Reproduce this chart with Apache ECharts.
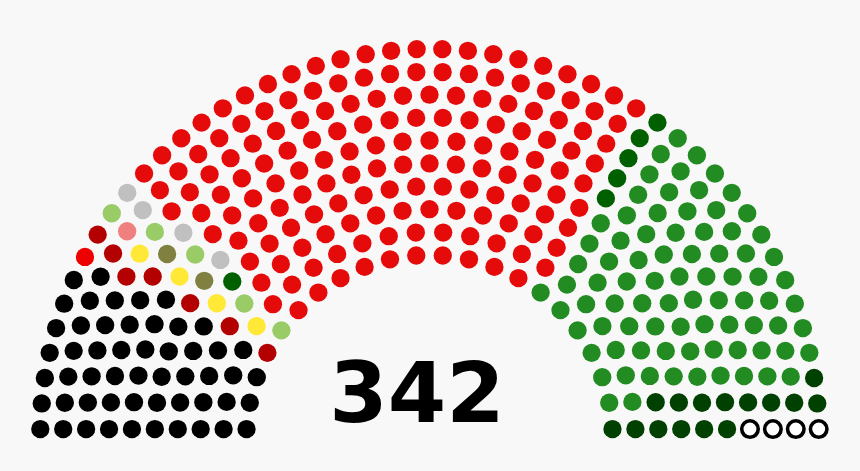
<!DOCTYPE html>
<html>
<head>
<meta charset="utf-8">
<script src="https://cdn.jsdelivr.net/npm/echarts@6/dist/echarts.min.js"></script>
<style>
html,body{margin:0;padding:0;background:#f8f8f8;}
#chart{width:860px;height:471px;}
</style>
</head>
<body>
<div id="chart"></div>
<script>
// Parties in seating order (left to right)
const partyNames = ['Black', 'Bright red', 'Dark red', 'Yellow', 'Pink', 'Olive', 'Light green', 'Dark green A', 'Grey', 'Red', 'Dark green B', 'Green', 'Darker green', 'Vacant'];
const seatCounts = [53, 1, 7, 4, 1, 2, 5, 1, 4, 158, 5, 82, 15, 4];
const seatColors = ['#000000', '#ee0000', '#b30000', '#ffe836', '#f08080', '#808040', '#99cc66', '#006000', '#c0c0c0', '#e60b0b', '#006000', '#228b22', '#004000', '#ffffff'];
const totalLabel = '342';

// Parliament-diagram layout (row counts from total seats)
const Totals = [3, 15, 33, 61, 95, 138, 189, 247, 313, 388, 469, 559, 657, 762, 876, 997, 1126, 1263, 1408, 1560];
const total = seatCounts.reduce((a, b) => a + b, 0);
let rows = 1;
for (let i = 0; i < Totals.length; i++) { if (Totals[i] >= total) { rows = i + 1; break; } }
const dotR = 0.4 / rows;
const pos = [];
for (let i = 1; i < rows; i++) {
  const R = (3 * rows + 4 * i - 2) / (4 * rows);
  const J = Math.floor(total / Totals[rows - 1] * Math.PI / (2 * Math.asin(2 / (3 * rows + 4 * i - 2))));
  for (let j = 0; j < J; j++) {
    const a = j * (Math.PI - 2 * Math.sin(dotR / R)) / (J - 1) + Math.sin(dotR / R);
    pos.push([a, R]);
  }
}
{
  const R = (3 * rows + 4 * rows - 2) / (4 * rows);
  const J = total - pos.length;
  for (let j = 0; j < J; j++) {
    const a = j * (Math.PI - 2 * Math.sin(dotR / R)) / (J - 1) + Math.sin(dotR / R);
    pos.push([a, R]);
  }
}
pos.sort((p, q) => q[0] - p[0]);

const pxPerUnit = 229;
const series = [];
let idx = 0;
seatCounts.forEach((n, p) => {
  const data = [];
  for (let k = 0; k < n; k++) {
    const s = pos[idx++];
    data.push([s[1], s[0] * 180 / Math.PI]);
  }
  const vacant = partyNames[p] === 'Vacant';
  series.push({
    type: 'scatter',
    name: partyNames[p],
    coordinateSystem: 'polar',
    symbol: 'circle',
    symbolSize: vacant ? 16.5 : 2 * dotR * pxPerUnit,
    itemStyle: vacant ? { color: seatColors[p], borderColor: '#000', borderWidth: 3.6, opacity: 1 } : { color: seatColors[p], opacity: 1 },
    silent: true,
    data: data
  });
});

const chart = echarts.init(document.getElementById('chart'));
chart.setOption({
  backgroundColor: '#f8f8f8',
  animation: false,
  polar: { center: [429.5, 438.2], radius: 1.75 * pxPerUnit },
  radiusAxis: { min: 0, max: 1.75, show: false },
  angleAxis: { min: 0, max: 360, startAngle: 0, clockwise: false, show: false },
  graphic: [{
    type: 'text',
    x: 417,
    y: 400,
    style: {
      text: totalLabel,
      fontSize: 84,
      fontWeight: 'bold',
      fontFamily: '"DejaVu Sans", sans-serif',
      fill: '#000',
      textAlign: 'center',
      textVerticalAlign: 'middle'
    }
  }],
  series: series
});
</script>
</body>
</html>
